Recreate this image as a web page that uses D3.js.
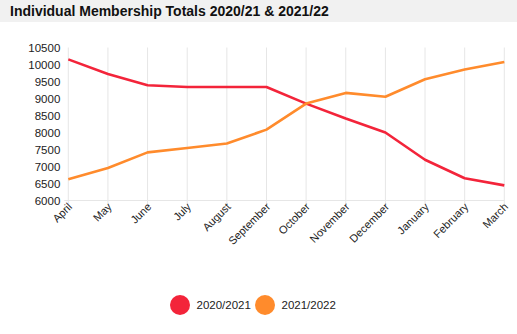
<!DOCTYPE html>
<html><head><meta charset="utf-8">
<script src="https://cdn.jsdelivr.net/npm/d3@7"></script>
<style>
body{margin:0;background:#fff;font-family:"Liberation Sans",Arial,sans-serif;}
</style></head>
<body><svg id="c" width="517" height="334"></svg>
<script>
const months = ["April","May","June","July","August","September","October","November","December","January","February","March"];
const series2021 = [10150,9720,9390,9340,9340,9340,8850,8410,8000,7200,6655,6445];
const series2122 = [6625,6955,7415,7545,7675,8085,8850,9165,9050,9565,9855,10075];
const yTicks = [6000,6500,7000,7500,8000,8500,9000,9500,10000,10500];
const seriesNames = ["2020/2021","2021/2022"];
const colors = ["#f3243a","#ff8b2c"];

const svg = d3.select("#c");
svg.append("rect").attr("x",0).attr("y",0).attr("width",517).attr("height",22).attr("fill","#f1f1f1");
svg.append("text").attr("x",10).attr("y",16).attr("font-size",14).attr("font-weight","bold").attr("fill","#111")
  .text("Individual Membership Totals 2020/21 & 2021/22");

const x = d3.scalePoint().domain(months).range([68.3,504.3]);
const y = d3.scaleLinear().domain([6000,10500]).range([200.5,47.5]);

// vertical grid
svg.append("g").selectAll("line").data(months).join("line")
  .attr("x1",d=>x(d)).attr("x2",d=>x(d)).attr("y1",y(10500)).attr("y2",y(6000)+4)
  .attr("stroke","#e6e6e6").attr("stroke-width",1);
svg.append("line").attr("x1",x.range()[0]-4).attr("x2",x.range()[1]).attr("y1",y(6000)).attr("y2",y(6000))
  .attr("stroke","#e6e6e6");

const ya = svg.append("g").attr("transform",`translate(${x.range()[0]-2},0)`)
  .call(d3.axisLeft(y).tickValues(yTicks).tickSize(0).tickPadding(6).tickFormat(d3.format("d")));
ya.select(".domain").remove();
ya.selectAll("text").attr("font-size",11.5).attr("font-family","'Liberation Sans',Arial,sans-serif").attr("fill","#222");

const xa = svg.append("g").attr("transform",`translate(0,${y(6000)})`)
  .call(d3.axisBottom(x).tickSize(0).tickPadding(0));
xa.select(".domain").remove();
xa.selectAll("text").attr("font-size",11).attr("font-family","'Liberation Sans',Arial,sans-serif").attr("fill","#222")
  .attr("text-anchor","end").attr("dy",0).attr("transform","translate(4,7) rotate(-45)");

const line = d3.line().x((d,i)=>x(months[i])).y(d=>y(d));
[series2021,series2122].forEach((s,k)=>{
  svg.append("path").datum(s).attr("d",line).attr("fill","none").attr("stroke",colors[k])
    .attr("stroke-width",2.6).attr("stroke-linejoin","round");
});

// legend
const lg = svg.append("g");
const lx = [180,265];
seriesNames.forEach((n,k)=>{
  lg.append("circle").attr("cx",lx[k]).attr("cy",305).attr("r",10).attr("fill",colors[k]);
  lg.append("text").attr("x",lx[k]+16.5).attr("y",309).attr("font-size",11.5).attr("fill","#222").text(n);
});
</script></body></html>
